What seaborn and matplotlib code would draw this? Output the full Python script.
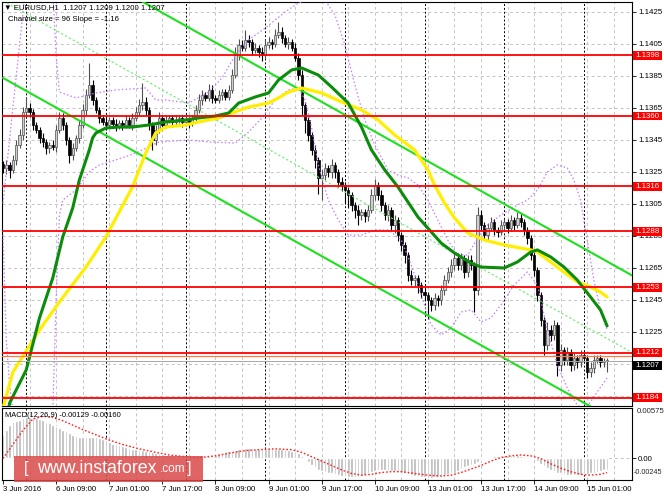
import matplotlib
matplotlib.use("Agg")
import matplotlib.pyplot as plt
import matplotlib.transforms as mtransforms
from matplotlib.patches import Rectangle
import numpy as np
import seaborn as sns

# ---------------- data ----------------
PIP = 0.0001
first_open = 1.13300
close = [
    1.13275, 1.13294, 1.13263, 1.13325, 1.13419, 1.13481, 1.13625, 1.13650, 1.13625, 1.13544,
    1.13513, 1.13463, 1.13438, 1.13400, 1.13419, 1.13406, 1.13513, 1.13588, 1.13544, 1.13450,
    1.13356, 1.13400, 1.13463, 1.13544, 1.13638, 1.13731, 1.13794, 1.13700, 1.13638, 1.13588,
    1.13563, 1.13544, 1.13575, 1.13550, 1.13538, 1.13556, 1.13544, 1.13575, 1.13544, 1.13588,
    1.13625, 1.13669, 1.13688, 1.13638, 1.13544, 1.13450, 1.13513, 1.13588, 1.13544, 1.13575,
    1.13588, 1.13563, 1.13575, 1.13588, 1.13563, 1.13575, 1.13556, 1.13588, 1.13638, 1.13700,
    1.13731, 1.13713, 1.13763, 1.13713, 1.13700, 1.13731, 1.13750, 1.13719, 1.13763, 1.13856,
    1.13981, 1.14044, 1.14025, 1.14075, 1.14063, 1.14013, 1.14025, 1.14000, 1.13981, 1.14044,
    1.14063, 1.14050, 1.14106, 1.14125, 1.14088, 1.14050, 1.14063, 1.14025, 1.13963, 1.13856,
    1.13669, 1.13575, 1.13481, 1.13388, 1.13325, 1.13213, 1.13231, 1.13275, 1.13250, 1.13294,
    1.13250, 1.13188, 1.13169, 1.13138, 1.13106, 1.13044, 1.13013, 1.12981, 1.13000, 1.12975,
    1.13013, 1.13106, 1.13169, 1.13106, 1.13044, 1.12981, 1.13013, 1.12919, 1.12950, 1.12856,
    1.12794, 1.12731, 1.12606, 1.12575, 1.12588, 1.12544, 1.12500, 1.12481, 1.12450, 1.12419,
    1.12463, 1.12450, 1.12513, 1.12575, 1.12625, 1.12669, 1.12713, 1.12669, 1.12713, 1.12625,
    1.12700, 1.12669, 1.12513, 1.12981, 1.12919, 1.12856, 1.12900, 1.12938, 1.12888, 1.12875,
    1.12919, 1.12938, 1.12900, 1.12950, 1.12919, 1.12963, 1.12938, 1.12888, 1.12838, 1.12731,
    1.12638, 1.12481, 1.12325, 1.12169, 1.12263, 1.12231, 1.12294, 1.12044, 1.12138, 1.12075,
    1.12125, 1.12044, 1.12088, 1.12063, 1.12106, 1.12088, 1.12000, 1.12025, 1.12075, 1.12088,
    1.12063, 1.12070, 1.12070]
wick_hi = [
    2, 3, 2, 3, 3, 4, 3, 7, 3, 2,   2, 2, 3, 2, 2, 3, 3, 4, 3, 2,
    2, 3, 2, 3, 4, 4, 14, 3, 2, 2,  2, 3, 2, 2, 3, 2, 2, 3, 2, 3,
    3, 4, 12, 3, 2, 2, 3, 4, 2, 3,  2, 2, 3, 2, 2, 3, 2, 2, 3, 4,
    3, 2, 4, 3, 2, 3, 2, 2, 3, 4,   5, 4, 3, 6, 3, 2, 3, 2, 3, 4,
    3, 2, 4, 6, 3, 2, 3, 2, 3, 3,   3, 2, 2, 2, 3, 2, 4, 3, 2, 4,
    2, 2, 3, 2, 2, 2, 2, 3, 2, 2,   3, 4, 4, 2, 3, 2, 3, 2, 3, 2,
    2, 2, 2, 3, 2, 2, 2, 3, 2, 2,   3, 2, 3, 3, 3, 4, 4, 3, 3, 2,
    3, 3, 2, 5, 3, 2, 3, 3, 2, 2,   3, 2, 2, 3, 2, 4, 3, 2, 2, 2,
    2, 2, 2, 2, 5, 3, 3, 2, 4, 2,   3, 2, 3, 2, 3, 2, 2, 4, 3, 2,
    2, 2, 2]
wick_lo = [
    3, 4, 5, 2, 3, 2, 3, 2, 3, 3,   2, 3, 3, 4, 3, 2, 3, 2, 3, 3,
    5, 3, 2, 3, 2, 3, 2, 3, 2, 3,   2, 3, 2, 2, 3, 2, 3, 2, 2, 3,
    2, 2, 3, 3, 3, 6, 3, 2, 3, 2,   2, 3, 2, 2, 3, 2, 3, 2, 2, 2,
    3, 2, 2, 3, 2, 2, 3, 2, 2, 2,   2, 3, 2, 2, 3, 3, 2, 3, 4, 2,
    2, 3, 2, 2, 3, 2, 3, 2, 2, 3,   6, 8, 4, 3, 5, 10, 14, 3, 3, 4,
    4, 3, 4, 9, 8, 4, 5, 6, 3, 4,   3, 2, 3, 3, 4, 3, 4, 3, 5, 4,
    4, 5, 4, 3, 4, 5, 4, 3, 12, 4,  3, 4, 3, 3, 2, 3, 3, 3, 3, 4,
    3, 3, 14, 3, 3, 3, 3, 2, 3, 3,  2, 3, 3, 2, 3, 2, 3, 3, 4, 3,
    4, 4, 4, 6, 3, 4, 3, 7, 4, 3,   3, 4, 3, 4, 3, 3, 4, 3, 3, 2,
    3, 3, 7]

ma_green_bar = [1, 2, 7, 11, 15, 18, 21, 23, 26, 27, 28, 31, 35, 39, 44, 49, 55, 59, 64, 68,
                71, 76, 80, 83, 87, 90, 95, 99, 104, 108, 111, 115, 119, 125, 132, 136, 141, 144,
                151, 155, 159, 161, 165, 169, 173, 177, 180, 182]
ma_green_val = [1.11700, 1.11806, 1.12013, 1.12338, 1.12588, 1.12844, 1.13025, 1.13200, 1.13388, 1.13463,
                1.13494, 1.13525, 1.13531, 1.13531, 1.13544, 1.13563, 1.13575, 1.13588, 1.13600, 1.13619,
                1.13681, 1.13719, 1.13744, 1.13825, 1.13888, 1.13900, 1.13856, 1.13781, 1.13681, 1.13531,
                1.13388, 1.13263, 1.13156, 1.12969, 1.12806, 1.12744, 1.12681, 1.12656, 1.12650, 1.12688,
                1.12750, 1.12763, 1.12719, 1.12656, 1.12575, 1.12469, 1.12388, 1.12288]
ma_yellow_bar = [0, 3, 11, 17, 25, 31, 35, 39, 41, 43, 46, 49, 55, 59, 65, 69, 74, 80, 83, 86,
                 90, 96, 102, 108, 113, 118, 124, 128, 130, 133, 136, 140, 145, 151, 159, 161, 167,
                 173, 177, 180, 182]
ma_yellow_val = [1.11775, 1.12000, 1.12263, 1.12438, 1.12656, 1.12844, 1.13000, 1.13156, 1.13263, 1.13369,
                 1.13494, 1.13531, 1.13544, 1.13563, 1.13588, 1.13619, 1.13656, 1.13681, 1.13713, 1.13750,
                 1.13775, 1.13744, 1.13688, 1.13638, 1.13575, 1.13481, 1.13388, 1.13263, 1.13169, 1.13056,
                 1.12963, 1.12869, 1.12825, 1.12794, 1.12763, 1.12750, 1.12656, 1.12563, 1.12531, 1.12500,
                 1.12469]

band_up_a_bar = [0, 3, 7]
band_up_a_val = [1.13056, 1.13656, 1.14438]
band_up_bar = [15, 16, 17, 22, 28, 34, 43, 46, 49, 56, 62, 66, 70, 74, 79, 85, 89, 93, 97, 100,
               103, 106, 109, 112, 116, 119, 122, 125, 128, 131, 134, 137, 140, 143, 146, 150, 155,
               158, 161, 164, 167, 170, 172, 174, 176, 178, 180, 182]
band_up_val = [1.14388, 1.13981, 1.13750, 1.13713, 1.13744, 1.13763, 1.13775, 1.13700, 1.13700, 1.13681,
               1.13750, 1.13838, 1.13981, 1.14075, 1.14150, 1.14250, 1.14306, 1.14338, 1.14325, 1.14231,
               1.14044, 1.13794, 1.13575, 1.13419, 1.13263, 1.13231, 1.13213, 1.13169, 1.13075, 1.12950,
               1.12825, 1.12731, 1.12731, 1.12838, 1.12919, 1.12981, 1.13044, 1.13075, 1.13138, 1.13250,
               1.13294, 1.13275, 1.13200, 1.13075, 1.12825, 1.12575, 1.12388, 1.12263]
band_lo_a_bar = [0, 1, 2, 3]
band_lo_a_val = [1.12856, 1.12200, 1.11919, 1.11750]
band_lo_bar = [15, 16, 17, 18, 22, 26, 29, 34, 40, 47, 56, 62, 70, 74, 78, 82, 86, 89, 91, 93,
               95, 98, 101, 104, 108, 112, 116, 120, 123, 126, 129, 132, 135, 138, 141, 144, 147,
               150, 154, 158, 161, 164, 167, 170, 173, 175, 177, 179, 182]
band_lo_val = [1.11750, 1.12450, 1.12981, 1.13075, 1.13138, 1.13250, 1.13294, 1.13325, 1.13369, 1.13438,
               1.13450, 1.13438, 1.13431, 1.13500, 1.13588, 1.13700, 1.13763, 1.13775, 1.13700, 1.13525,
               1.13294, 1.13075, 1.12950, 1.12856, 1.12856, 1.12888, 1.12888, 1.12825, 1.12669, 1.12481,
               1.12294, 1.12231, 1.12275, 1.12375, 1.12388, 1.12313, 1.12338, 1.12419, 1.12544, 1.12625,
               1.12544, 1.12263, 1.12044, 1.11900, 1.11794, 1.11763, 1.11813, 1.11875, 1.11963]

chan_bar = [0, 190]
chan_upper = [1.14802, 1.12598]
chan_mid = [1.14320, 1.12116]
chan_lower = [1.13838, 1.11634]

levels = [1.1398, 1.1360, 1.1316, 1.1288, 1.1253, 1.1212, 1.1184]
level_minor = 1.1210
bid = 1.1207

macd_hist = [
    0.0027, 0.0033, 0.0038, 0.0041, 0.0043, 0.0044, 0.0046, 0.0047, 0.0047, 0.0047,
    0.0046, 0.0045, 0.0044, 0.0042, 0.0040, 0.0038, 0.0037, 0.0035, 0.0033, 0.0031,
    0.0029, 0.0027, 0.0026, 0.0025, 0.0025, 0.0025, 0.0025, 0.0024, 0.0024, 0.0023,
    0.0022, 0.0021, 0.0019, 0.0017, 0.0016, 0.0015, 0.0014, 0.0013, 0.0012, 0.0011,
    0.0011, 0.0010, 0.0010, 0.0009, 0.0008, 0.0007, 0.0006, 0.0006, 0.0005, 0.0004,
    0.0003, 0.0003, 0.0002, 0.0002, 0.0002, 0.0001, 0.0001, 0.0001, 0.0001, 0.0002,
    0.0002, 0.0003, 0.0003, 0.0004, 0.0004, 0.0005, 0.0006, 0.0007, 0.0008, 0.0009,
    0.0010, 0.0011, 0.0012, 0.0012, 0.0012, 0.0012, 0.0011, 0.0011, 0.0011, 0.0011,
    0.0011, 0.0011, 0.0011, 0.0011, 0.0011, 0.0011, 0.0010, 0.0009, 0.0008, 0.0006,
    0.0003, -0.0001, -0.0004, -0.0007, -0.0010, -0.0013, -0.0014, -0.0015, -0.0016, -0.0017,
    -0.0018, -0.0019, -0.0020, -0.0020, -0.0021, -0.0021, -0.0021, -0.0021, -0.0020, -0.0019,
    -0.0017, -0.0015, -0.0014, -0.0013, -0.0013, -0.0013, -0.0013, -0.0014, -0.0014, -0.0015,
    -0.0016, -0.0017, -0.0018, -0.0019, -0.0020, -0.0020, -0.0021, -0.0021, -0.0022, -0.0022,
    -0.0021, -0.0021, -0.0020, -0.0019, -0.0018, -0.0017, -0.0016, -0.0014, -0.0012, -0.0010,
    -0.0008, -0.0007, -0.0006, -0.0004, -0.0002, -0.0001, 0.0000, 0.0002, 0.0003, 0.0003,
    0.0004, 0.0004, 0.0004, 0.0004, 0.0004, 0.0004, 0.0003, 0.0003, 0.0002, 0.0001,
    -0.0001, -0.0003, -0.0006, -0.0009, -0.0011, -0.0013, -0.0014, -0.0016, -0.0017, -0.0018,
    -0.0019, -0.0019, -0.0019, -0.0019, -0.0019, -0.0018, -0.0018, -0.0017, -0.0016, -0.0015,
    -0.0014, -0.0013, -0.00129]
signal_bar = [0, 3, 6, 9, 12, 15, 18, 21, 24, 28, 32, 36, 41, 46, 50, 55, 59, 64, 68, 73,
              77, 82, 87, 90, 93, 96, 99, 102, 105, 108, 111, 114, 117, 120, 124, 128, 132, 135,
              138, 141, 144, 147, 150, 153, 156, 159, 162, 165, 168, 171, 174, 177, 180, 182]
signal_val = [0.0000, 0.0016, 0.0032, 0.0045, 0.0048, 0.0047, 0.0043, 0.0038, 0.0033, 0.0027,
              0.0021, 0.0016, 0.0011, 0.0007, 0.0004, 0.0002, 0.0001, 0.0003, 0.0006, 0.0009,
              0.0010, 0.0011, 0.0010, 0.0007, 0.0002, -0.0003, -0.0008, -0.0013, -0.0017, -0.0019,
              -0.0018, -0.0016, -0.0015, -0.0015, -0.0017, -0.0019, -0.0020, -0.0019, -0.0016, -0.0012,
              -0.0008, -0.0003, 0.0001, 0.0003, 0.0004, 0.0003, 0.0000, -0.0006, -0.0011, -0.0015,
              -0.0018, -0.0019, -0.0018, -0.0016]

price_ticks = [1.1425, 1.1405, 1.1385, 1.1365, 1.1345, 1.1325, 1.1305, 1.1285, 1.1265,
               1.1245, 1.1225, 1.1205, 1.1185]
hidden_ticks = [1.1205, 1.1185]   # labels fully covered by the price boxes in the reference
date_tick_bars = [0, 16, 32, 48, 64, 80, 96, 112, 128, 144, 160, 176]
date_labels = ['3 Jun 2016', '6 Jun 09:00', '7 Jun 01:00', '7 Jun 17:00', '8 Jun 09:00',
               '9 Jun 01:00', '9 Jun 17:00', '10 Jun 09:00', '13 Jun 01:00', '13 Jun 17:00',
               '14 Jun 09:00', '15 Jun 01:00']
separator_bars = [7, 31, 55, 79, 103, 127, 151, 175]
macd_top, macd_bottom = 0.00575, -0.00245

# ---------------- style ----------------
sns.set_theme(style="white")
plt.rcParams['font.family'] = ['Liberation Sans', 'DejaVu Sans']
plt.rcParams['axes.edgecolor'] = 'black'
plt.rcParams['axes.linewidth'] = 0.8

W, H = 664, 498
fig = plt.figure(figsize=(W / 100, H / 100), dpi=100)
fig.patch.set_facecolor('white')


def fx(px):
    return px / W


def fy(py):
    return 1 - py / H


L, R = 2, 632
ax = fig.add_axes([fx(L), fy(406), (R - L) / W, (406 - 2) / H])
ax2 = fig.add_axes([fx(L), fy(480), (R - L) / W, (480 - 408) / H])
XLIM = (-0.3, 189.5)
for a in (ax, ax2):
    a.set_xlim(*XLIM)
    a.set_facecolor('white')
    for s in a.spines.values():
        s.set_color('black')
        s.set_linewidth(0.8)
ax.set_ylim(1.117875, 1.143125)
ax2.set_ylim(macd_bottom, macd_top)

GRID_C = '#C4C4C4'
GRID_LS = (0, (3, 3))
for a in (ax, ax2):
    for b in range(8, 190, 8):
        a.axvline(b, color=GRID_C, ls=GRID_LS, lw=0.7, zorder=0.5)
    for b in separator_bars:
        a.axvline(b, color='black', ls=(0, (2, 2)), lw=0.7, zorder=0.6)
for p in price_ticks:
    ax.axhline(p, color=GRID_C, ls=GRID_LS, lw=0.7, zorder=0.5)
ax2.axhline(0, color=GRID_C, ls=GRID_LS, lw=0.7, zorder=0.5)

# ---------------- candles ----------------
closes = np.array(close)
opens = np.array([first_open] + close[:-1])
bars = np.arange(len(closes))
highs = np.maximum(opens, closes) + np.array(wick_hi) * PIP
lows = np.minimum(opens, closes) - np.array(wick_lo) * PIP
up = closes >= opens
body_lo = np.minimum(opens, closes)
body_h = np.maximum(np.abs(closes - opens), 0.00002)
ax.vlines(bars[up], lows[up], highs[up], color='#505050', lw=0.8, zorder=3)
ax.vlines(bars[~up], lows[~up], highs[~up], color='black', lw=0.8, zorder=3)
ax.bar(bars[up], body_h[up], bottom=body_lo[up], width=0.72, color='#cfcfcf',
       edgecolor='#505050', lw=0.5, zorder=4)
ax.bar(bars[~up], body_h[~up], bottom=body_lo[~up], width=0.72, color='black',
       edgecolor='black', lw=0.5, zorder=4)

# ---------------- indicators ----------------
BAND_C = '#C37BFF'
BAND_LS = (0, (1.2, 1.8))
for bx, bv in ((band_up_a_bar, band_up_a_val), (band_up_bar, band_up_val),
               (band_lo_a_bar, band_lo_a_val), (band_lo_bar, band_lo_val)):
    sns.lineplot(x=bx, y=bv, ax=ax, color=BAND_C, lw=0.9, linestyle=BAND_LS,
                 sort=False, estimator=None, legend=False, zorder=5)

sns.lineplot(x=chan_bar, y=chan_mid, ax=ax, color='#66EE66', lw=0.8, linestyle=(0, (2, 2)),
             sort=False, estimator=None, legend=False, zorder=5)
sns.lineplot(x=chan_bar, y=chan_upper, ax=ax, color='#1EE01E', lw=1.5,
             sort=False, estimator=None, legend=False, zorder=6)
sns.lineplot(x=chan_bar, y=chan_lower, ax=ax, color='#1EE01E', lw=1.5,
             sort=False, estimator=None, legend=False, zorder=6)
sns.lineplot(x=ma_yellow_bar, y=ma_yellow_val, ax=ax, color='#FFEE00', lw=2.3,
             sort=False, estimator=None, legend=False, zorder=7)
sns.lineplot(x=ma_green_bar, y=ma_green_val, ax=ax, color='#0B8C0B', lw=2.2,
             sort=False, estimator=None, legend=False, zorder=7.5)

for lv in levels:
    ax.axhline(lv, color='#FF0000', lw=1.3, zorder=8)
ax.axhline(level_minor, color='#FF7A45', lw=0.9, zorder=8)
ax.axhline(bid, color='#A8A8A8', lw=0.7, zorder=8)

# ---------------- MACD ----------------
ax2.bar(bars, macd_hist, width=0.8, color='#B8B8B8', zorder=2)
sns.lineplot(x=signal_bar, y=signal_val, ax=ax2, color='#FF2020', lw=1.0, linestyle=(0, (1.2, 1.4)),
             sort=False, estimator=None, legend=False, zorder=3)

# ---------------- axes, ticks, labels ----------------
ax.set_xticks([])
ax.set_xlabel('')
ax.set_ylabel('')
ax.yaxis.tick_right()
ax.set_yticks(price_ticks)
ax.set_yticklabels(['' if p in hidden_ticks else f"{p:.4f}" for p in price_ticks])
ax.tick_params(axis='y', right=True, left=False, labelright=True, labelleft=False,
               length=3, width=0.6, labelsize=5.7, pad=1.5, colors='black', direction='out')

ax2.set_xlabel('')
ax2.set_ylabel('')
ax2.set_xticks(date_tick_bars)
ax2.set_xticklabels(date_labels, ha='left')
ax2.tick_params(axis='x', bottom=True, length=3, width=0.6, labelsize=5.6, pad=1.5,
                colors='black', direction='out')
ax2.yaxis.tick_right()
ax2.set_yticks([0.0])
ax2.set_yticklabels(['0.00'])
ax2.tick_params(axis='y', right=True, left=False, labelright=True, labelleft=False,
                length=3, width=0.6, labelsize=5.6, pad=1.5, colors='black', direction='out')
tr2 = mtransforms.blended_transform_factory(ax2.transAxes, ax2.transAxes)
xlab = (637 - L) / (R - L)
ax2.text(xlab, (480 - 411.5) / 72, f"{macd_top:.5f}", transform=tr2, fontsize=5.6,
         va='center', ha='left', clip_on=False)
ax2.text((634 - L) / (R - L), (480 - 472) / 72, f"{macd_bottom:.5f}", transform=tr2, fontsize=5.2,
         va='center', ha='left', clip_on=False)

# right-hand price boxes
tr = mtransforms.blended_transform_factory(ax.transAxes, ax.transData)
bx0 = (633 - L) / (R - L)
bw = 29 / (R - L)
bh = 0.00056
for lv in levels:
    ax.add_patch(Rectangle((bx0, lv - bh / 2), bw, bh, transform=tr, facecolor='#FF0000',
                           edgecolor='none', clip_on=False, zorder=20))
    ax.text((635.5 - L) / (R - L), lv, f"{lv:.4f}", transform=tr, color='white', fontsize=5.7,
            va='center', ha='left', clip_on=False, zorder=21)
ax.add_patch(Rectangle((bx0, bid - 0.00028 - bh / 2), bw, bh, transform=tr, facecolor='black',
                       edgecolor='none', clip_on=False, zorder=20))
ax.text((635.5 - L) / (R - L), bid - 0.00028, f"{bid:.4f}", transform=tr, color='white', fontsize=5.7,
        va='center', ha='left', clip_on=False, zorder=21)

# header texts
fig.text(fx(4), fy(8), "\u25BC EURUSD,H1  1.1207 1.1209 1.1200 1.1207", fontsize=5.6,
         va='center', ha='left', color='black')
fig.text(fx(8), fy(19.5), "Channel size = 96 Slope = -1.16", fontsize=5.6,
         va='center', ha='left', color='black')
fig.text(fx(5), fy(415), "MACD(12,26,9) -0.00129 -0.00160", fontsize=5.4,
         va='center', ha='left', color='black')

# watermark
fig.add_artist(Rectangle((fx(14), fy(482)), 189 / W, 26 / H, transform=fig.transFigure,
                         facecolor='#DA4A4A', alpha=0.85, edgecolor='none', zorder=20))
fig.text(fx(24), fy(468), "[", fontsize=12, color='white', va='center', ha='left', zorder=21)
fig.text(fx(37), fy(468.5), "www.instaforex", fontsize=12.8, color='white', va='center',
         ha='left', zorder=21)
fig.text(fx(160), fy(469), ".com", fontsize=8.5, color='white', va='center', ha='left', zorder=21)
fig.text(fx(187), fy(468), "]", fontsize=12, color='white', va='center', ha='left', zorder=21)

fig.savefig("out.png", dpi=100, facecolor='white')
